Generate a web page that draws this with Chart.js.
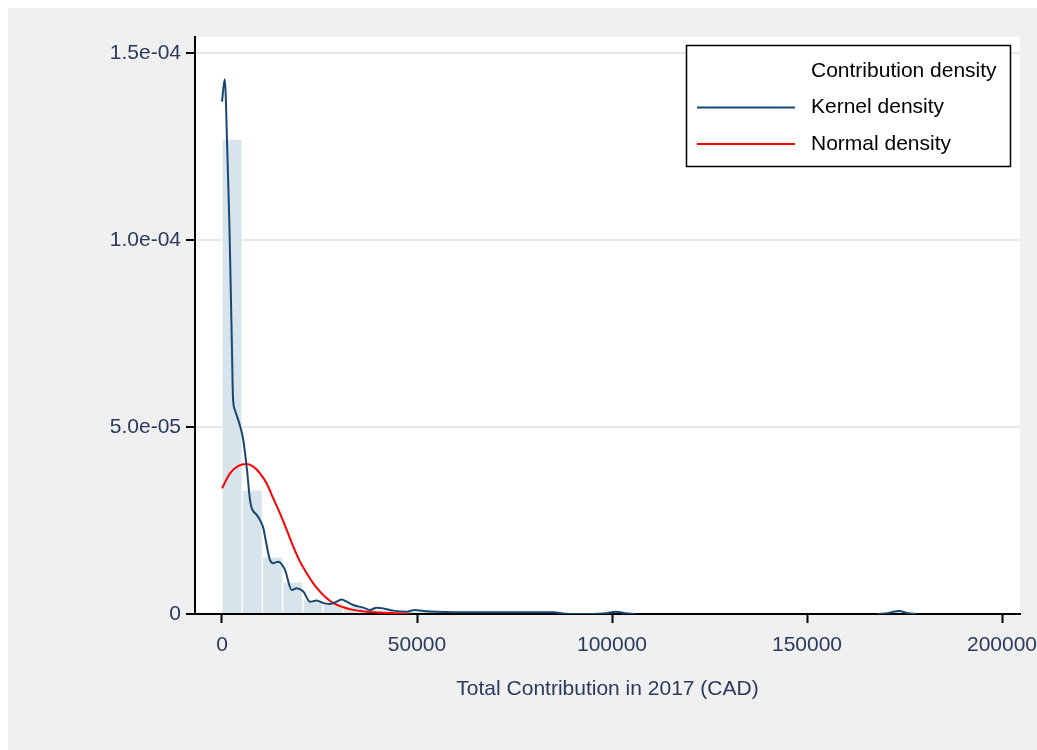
<!DOCTYPE html>
<html>
<head>
<meta charset="utf-8">
<script src="https://cdn.jsdelivr.net/npm/chart.js@4"></script>
<style>
  html, body { margin: 0; padding: 0; background: #fff; overflow: hidden; }
  #wrap { position: relative; width: 1080px; height: 750px; }
</style>
</head>
<body>
<div id="wrap"><canvas id="chart" width="1080" height="750"></canvas></div>
<script>
// histogram bins (density), bin width
const binWidth = 5180;
const binHeights = [
  1.27e-4, 3.32e-5, 1.53e-5, 8.6e-6, 3.7e-6, 3.0e-6, 2.2e-6, 1.2e-6,
  1.0e-6, 6e-7, 5e-7, 4e-7, 3e-7, 5e-7, 5e-7, 5e-7, 5e-7, null, null,
  4e-7, null, null, null, null, null, null, null, null, null, null, null,
  null, null, 5e-7
];

// kernel density curve
const kernelX = [
  0, 700, 1360, 1900, 2300, 2560, 2820, 3330, 4690, 5460, 6410, 7180, 7615,
  8900, 9740, 10600, 11030, 12310, 13150, 14440, 16150, 17870, 19150, 20850,
  22560, 24280, 25970, 27690, 29410, 30690, 31970, 33670, 36230, 37950,
  39670, 41360, 43920, 47360, 49490, 51620, 55000, 59400, 66300, 70000,
  78000, 85000, 88000, 95000, 98500, 101000, 103500, 106000,
  137000, 168000, 171000, 173500, 176000, 178000
];
const kernelY = [
  1.37e-4, 1.43e-4, 1.24e-4, 1.04e-4, 8.4e-5, 7.06e-5, 5.78e-5, 5.45e-5,
  5.01e-5, 4.65e-5, 3.85e-5, 3.05e-5, 2.83e-5, 2.65e-5, 2.51e-5, 2.3e-5,
  2.07e-5, 1.44e-5, 1.36e-5, 1.4e-5, 1.18e-5, 6.4e-6, 6.9e-6, 6.0e-6,
  3.3e-6, 3.6e-6, 2.9e-6, 2.7e-6, 3.3e-6, 3.9e-6, 3.3e-6, 2.4e-6, 1.7e-6,
  1.1e-6, 1.7e-6, 1.5e-6, 9e-7, 6e-7, 1.1e-6, 8e-7, 6e-7, 5e-7, 5e-7,
  4.5e-7, 4.5e-7, 4.5e-7, 1e-7, 0, 2e-7, 6e-7, 2e-7, 0,
  null, 0, 3e-7, 8e-7, 2e-7, 0
];

// normal density curve
const normalX = [
  0, 2050, 4180, 6330, 8030, 9740, 11460, 13150, 14870, 16590, 18280,
  20000, 21720, 23410, 25130, 26850, 28540, 31100, 33670, 37100, 43080, 48000
];
const normalY = [
  3.36e-5, 3.76e-5, 3.96e-5, 4.01e-5, 3.94e-5, 3.76e-5, 3.49e-5, 3.09e-5,
  2.69e-5, 2.25e-5, 1.8e-5, 1.4e-5, 1.09e-5, 8.2e-6, 6.0e-6, 4.2e-6,
  2.9e-6, 1.8e-6, 1.1e-6, 6e-7, 3e-7, 1e-7
];

const xTicks = [0, 50000, 100000, 150000, 200000];
const yTicks = [0, 5e-5, 1e-4, 1.5e-4];
const xTitle = "Total Contribution in 2017 (CAD)";

const FONT = "'Liberation Sans', Arial, sans-serif";
const TEXT = "#2a3a5e";
const KERNEL = "#1a476f";

// y labels like Stata: 5.0e-05
const sciLabel = (v) => {
  if (v === 0) return "0";
  const [m, e] = v.toExponential(1).split("e");
  const n = parseInt(e, 10);
  return m + "e" + (n < 0 ? "-" : "+") + String(Math.abs(n)).padStart(2, "0");
};

const bgPlugin = {
  id: "bg",
  beforeDraw(chart) {
    const { ctx, chartArea: a } = chart;
    ctx.save();
    ctx.fillStyle = "#ffffff";
    ctx.fillRect(0, 0, chart.width, chart.height);
    ctx.fillStyle = "#f0f0f0";
    ctx.fillRect(8, 8, chart.width - 8, chart.height - 8);
    ctx.fillStyle = "#ffffff";
    ctx.fillRect(a.left, a.top, a.right - a.left, a.bottom - a.top);
    ctx.restore();
  },
  afterDraw(chart) {
    const { ctx, chartArea: a } = chart;
    ctx.save();
    // x axis title
    ctx.font = "21px " + FONT;
    ctx.fillStyle = TEXT;
    ctx.textAlign = "center";
    ctx.textBaseline = "middle";
    ctx.fillText(xTitle, (a.left + a.right) / 2, 689);

    // legend box
    const bx = 686.5, by = 45.5, bw = 324, bh = 121;
    ctx.fillStyle = "#fff";
    ctx.fillRect(bx, by, bw, bh);
    ctx.strokeStyle = "#000";
    ctx.lineWidth = 1.5;
    ctx.strokeRect(bx, by, bw, bh);
    ctx.textAlign = "left";
    ctx.fillStyle = "#000";
    chart.data.datasets.forEach((ds, i) => {
      const y = 71 + i * 36.5;
      if (ds.type === "line") {
        ctx.strokeStyle = ds.borderColor;
        ctx.lineWidth = 2;
        ctx.beginPath();
        ctx.moveTo(697, y);
        ctx.lineTo(795, y);
        ctx.stroke();
      }
      ctx.fillText(ds.label, 811, y);
    });
    ctx.restore();
  },
};

new Chart(document.getElementById("chart"), {
  type: "bar",
  data: {
    datasets: [
      {
        type: "bar",
        label: "Contribution density",
        data: binHeights.map((h, i) => ({ x: i * binWidth + binWidth / 2, y: h })),
        backgroundColor: "rgb(216,228,235)",
        borderColor: "#ffffff",
        borderWidth: 1,
        barPercentage: 1,
        categoryPercentage: 1,
        order: 3,
      },
      {
        type: "line",
        label: "Kernel density",
        data: kernelX.map((x, i) => ({ x, y: kernelY[i] })),
        borderColor: KERNEL,
        borderWidth: 2,
        pointRadius: 0,
        cubicInterpolationMode: "monotone",
        spanGaps: false,
        order: 1,
      },
      {
        type: "line",
        label: "Normal density",
        data: normalX.map((x, i) => ({ x, y: normalY[i] })),
        borderColor: "#ff0000",
        borderWidth: 2,
        pointRadius: 0,
        cubicInterpolationMode: "monotone",
        order: 2,
      },
    ],
  },
  options: {
    responsive: false,
    animation: false,
    devicePixelRatio: 1,
    layout: { padding: { left: 0, top: 37, right: 60, bottom: 0 } },
    plugins: { legend: { display: false }, tooltip: { enabled: false } },
    scales: {
      x: {
        type: "linear",
        offset: false,
        min: -6923,
        max: 204615,
        afterBuildTicks: (s) => { s.ticks = xTicks.map((v) => ({ value: v })); },
        afterFit: (s) => { s.height = 136; },
        grid: { offset: false, drawOnChartArea: false, tickColor: "#000", tickLength: 9, tickWidth: 2 },
        border: { display: true, color: "#000", width: 2 },
        ticks: {
          color: TEXT,
          font: { family: FONT, size: 21 },
          padding: 10,
          maxRotation: 0,
          autoSkip: false,
          callback: (v) => String(v),
        },
      },
      y: {
        min: 0,
        max: 1.543e-4,
        afterBuildTicks: (s) => { s.ticks = yTicks.map((v) => ({ value: v })); },
        afterFit: (s) => { s.width = 195; },
        grid: {
          color: (c) => (c.tick && c.tick.value === 0 ? "rgba(0,0,0,0)" : "#e8e8e8"),
          lineWidth: 2,
          tickColor: "#000",
          tickLength: 9,
          tickWidth: 2,
        },
        border: { display: true, color: "#000", width: 2 },
        ticks: {
          color: TEXT,
          font: { family: FONT, size: 21 },
          padding: 5,
          autoSkip: false,
          callback: (v) => sciLabel(v),
        },
      },
    },
  },
  plugins: [bgPlugin],
});
</script>
</body>
</html>
